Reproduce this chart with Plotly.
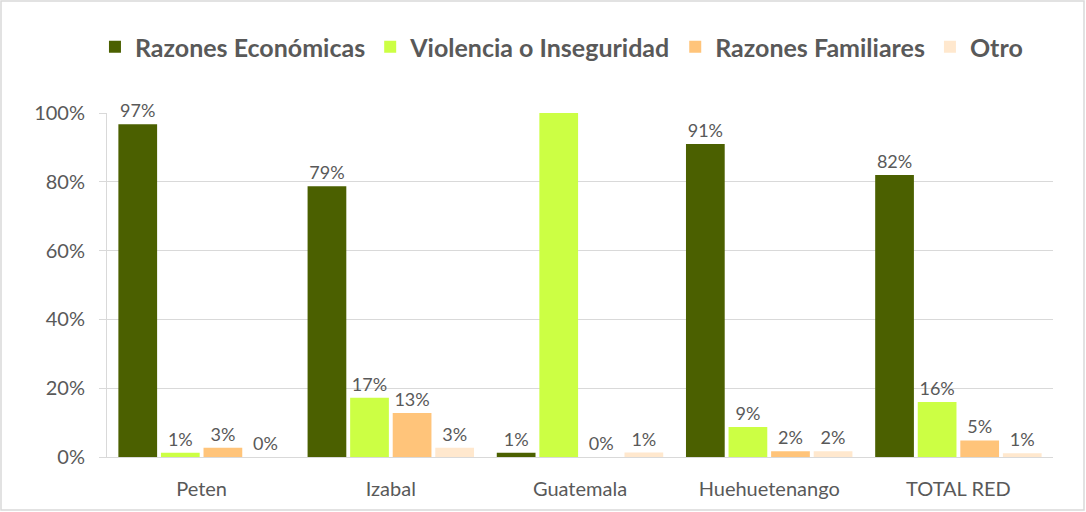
import plotly.graph_objects as go

categories = ["Peten", "Izabal", "Guatemala", "Huehuetenango", "TOTAL RED"]
series_names = ["Razones Económicas", "Violencia o Inseguridad", "Razones Familiares", "Otro"]
economicas = [0.967, 0.787, 0.012, 0.91, 0.82]
violencia = [0.012, 0.172, 1.0, 0.087, 0.16]
familiares = [0.027, 0.128, 0.0, 0.017, 0.048]
otro = [0.0, 0.027, 0.013, 0.017, 0.011]
colors = ["#4B6000", "#CCFF44", "#FFC47A", "#FFE8CE"]

def labels(vals):
    # the reference shows no label on the full (100%) bar
    return ["" if v >= 1.0 else f"{v:.0%}" for v in vals]

fig = go.Figure()
for name, vals, col in zip(series_names, [economicas, violencia, familiares, otro], colors):
    fig.add_trace(go.Bar(
        x=categories, y=vals, name=name, marker_color=col,
        marker_line_width=0,
        text=labels(vals), textposition="outside", cliponaxis=False,
        textfont=dict(family="Lato", size=18, color="#595959"),
    ))

fig.update_layout(
    width=1086, height=512,
    margin=dict(l=107, r=33, t=113, b=55, autoexpand=False),
    paper_bgcolor="white", plot_bgcolor="white",
    barmode="group", bargap=0.1, bargroupgap=0.09,
    font=dict(family="Lato", color="#595959"),
    legend=dict(orientation="h", x=0.517, xref="container", xanchor="center",
                y=1 - 47 / 512, yref="container", yanchor="middle",
                font=dict(family="Lato", size=25, color="#595959", weight="bold"),
                itemwidth=30, traceorder="normal"),
    showlegend=True,
)
fig.update_yaxes(range=[0, 1], tickformat=".0%", dtick=0.2, showgrid=True,
                 gridcolor="#D9D9D9", gridwidth=1, showline=True, linecolor="#D9D9D9",
                 ticks="outside", ticklen=7, tickcolor="#D9D9D9", ticklabelstandoff=10,
                 tickfont=dict(family="Lato", size=20, color="#595959"), zeroline=False)
fig.update_xaxes(showline=True, linecolor="#D9D9D9", ticks="", ticklabelstandoff=14,
                 tickfont=dict(family="Lato", size=20, color="#595959"))
fig.add_shape(type="rect", xref="paper", yref="paper",
              x0=-106/946, x1=1+31/946, y0=-53/344, y1=1+112/344,
              line=dict(color="#D9D9D9", width=1.5))
fig.write_html("out.html", config={"displayModeBar": False},
               post_script="document.body.style.margin='0';")
